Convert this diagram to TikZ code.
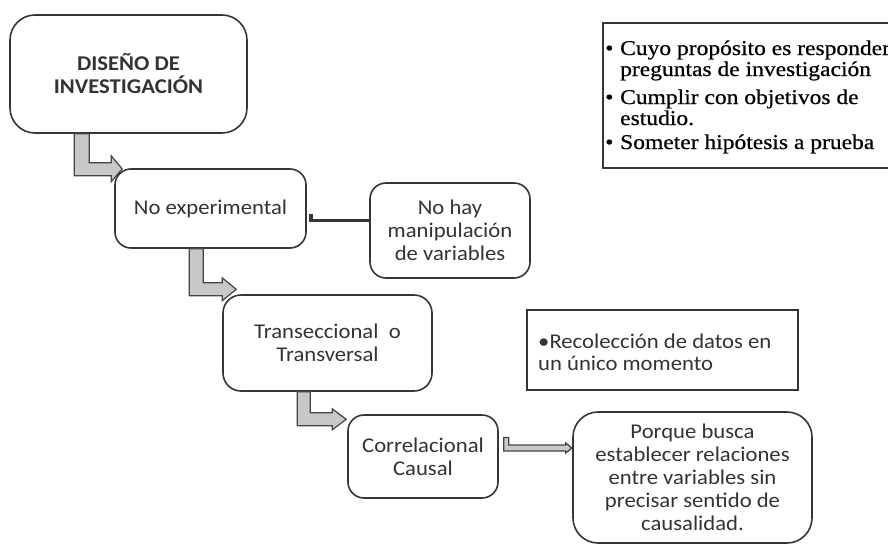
\documentclass[tikz,border=0pt]{standalone}
\usepackage{fontspec}
\setmainfont{Carlito}
\newfontfamily\calw[FakeStretch=1.08]{Carlito}
\newfontfamily\serw[FakeStretch=1.12,FakeBold=0.6]{Liberation Serif}
\usetikzlibrary{calc}
\definecolor{bordc}{HTML}{363636}
\definecolor{txtc}{HTML}{333333}
\definecolor{arrfill}{HTML}{C8C8C8}
\definecolor{arrline}{HTML}{444444}
\begin{document}
\begin{tikzpicture}[x=1pt,y=-1pt,
  rbox/.style={draw=bordc, line width=1.6pt, rounded corners=#1, align=center,
    text=txtc, font=\calw\fontsize{21}{23}\selectfont, inner sep=0pt},
  bentarr/.style={fill=arrfill, draw=arrline, line width=1.2pt, line join=miter},
  serline/.style={anchor=base west, inner sep=0pt, text=black,
    font=\serw\fontsize{21}{22}\selectfont},
  sanline/.style={anchor=base west, inner sep=0pt, text=txtc,
    font=\calw\fontsize{21}{23}\selectfont},
  sqbox/.style={draw=bordc, line width=1.8pt}]
\useasboundingbox (0,0) rectangle (888,546);
\fill[white] (0,0) rectangle (888,546);

% rounded boxes
\node[rbox=25pt, minimum width=237pt, minimum height=118pt, font=\calw\bfseries\fontsize{21}{23}\selectfont] (b1) at (128.5,74) {DISEÑO DE\\INVESTIGACIÓN};
\node[rbox=16pt, minimum width=191pt, minimum height=79pt] (noexp) at (210.5,208.5) {No experimental};
\node[rbox=16pt, minimum width=160pt, minimum height=95pt] (nohay) at (450,230.5) {No hay\\manipulación\\de variables};
\node[rbox=18pt, minimum width=209pt, minimum height=96pt] (trans) at (327.5,343) {Transeccional\ \ o\\Transversal};
\node[rbox=16pt, minimum width=150pt, minimum height=83pt] (corr) at (423,456.5) {Correlacional\\Causal};
\node[rbox=25pt, minimum width=239pt, minimum height=131pt] (porque) at (692.5,477.5) {Porque busca\\establecer relaciones\\entre variables sin\\precisar sentido de\\causalidad.};

% square boxes
\draw[sqbox] (603,23) rectangle (900,168);
\draw[sqbox] (527,310) rectangle (798,390);

% serif bullet text
\node[serline] (s1) at (605,55) {\makebox[15pt][l]{•}Cuyo propósito es responder};
\node[serline] (s2) at (620,76) {preguntas de investigación};
\node[serline] (s3) at (605,104) {\makebox[15pt][l]{•}Cumplir con objetivos de};
\node[serline] (s4) at (620,125) {estudio.};
\node[serline] (s5) at (605,149) {\makebox[15pt][l]{•}Someter hipótesis a prueba};

% sans bullet text
\node[sanline] (r1) at (538,348) {•Recolección de datos en};
\node[sanline] (r2) at (538,370) {un único momento};

% bent arrows
\draw[bentarr] ([shift={(65,0)}]b1.south west) -- ++(15,0) -- ++(0,29) -- ++(22,0)
  -- ++(0,-7) -- ++(11,13) -- ++(-11,13) -- ++(0,-6) -- ++(-37,0) -- cycle;
\draw[bentarr] ([shift={(75,0)}]noexp.south west) -- ++(14,0) -- ++(0,34) -- ++(19,0)
  -- ++(0,-5) -- ++(14,11.5) -- ++(-14,11.5) -- ++(0,-5) -- ++(-33,0) -- cycle;
\draw[bentarr] ([shift={(75,0)}]trans.south west) -- ++(13,0) -- ++(0,21) -- ++(22,0)
  -- ++(0,-4) -- ++(14,10.5) -- ++(-14,10.5) -- ++(0,-4) -- ++(-35,0) -- cycle;

% thin connectors
\draw[line width=3.5pt, draw=bordc] ([shift={(4,5)}]noexp.east) -- ++(0,7)
  -- ([shift={(0,-10)}]nohay.west);
\draw[fill=arrfill, draw=arrline, line width=1.3pt] ([shift={(5,-19)}]corr.east)
  -- ++(5,0) -- ++(0,7.5) -- ++(57,0) -- ++(0,-2) -- ++(6,5) -- ++(-6,5)
  -- ++(0,-2) -- ++(-62,0) -- cycle;
\end{tikzpicture}
\end{document}
